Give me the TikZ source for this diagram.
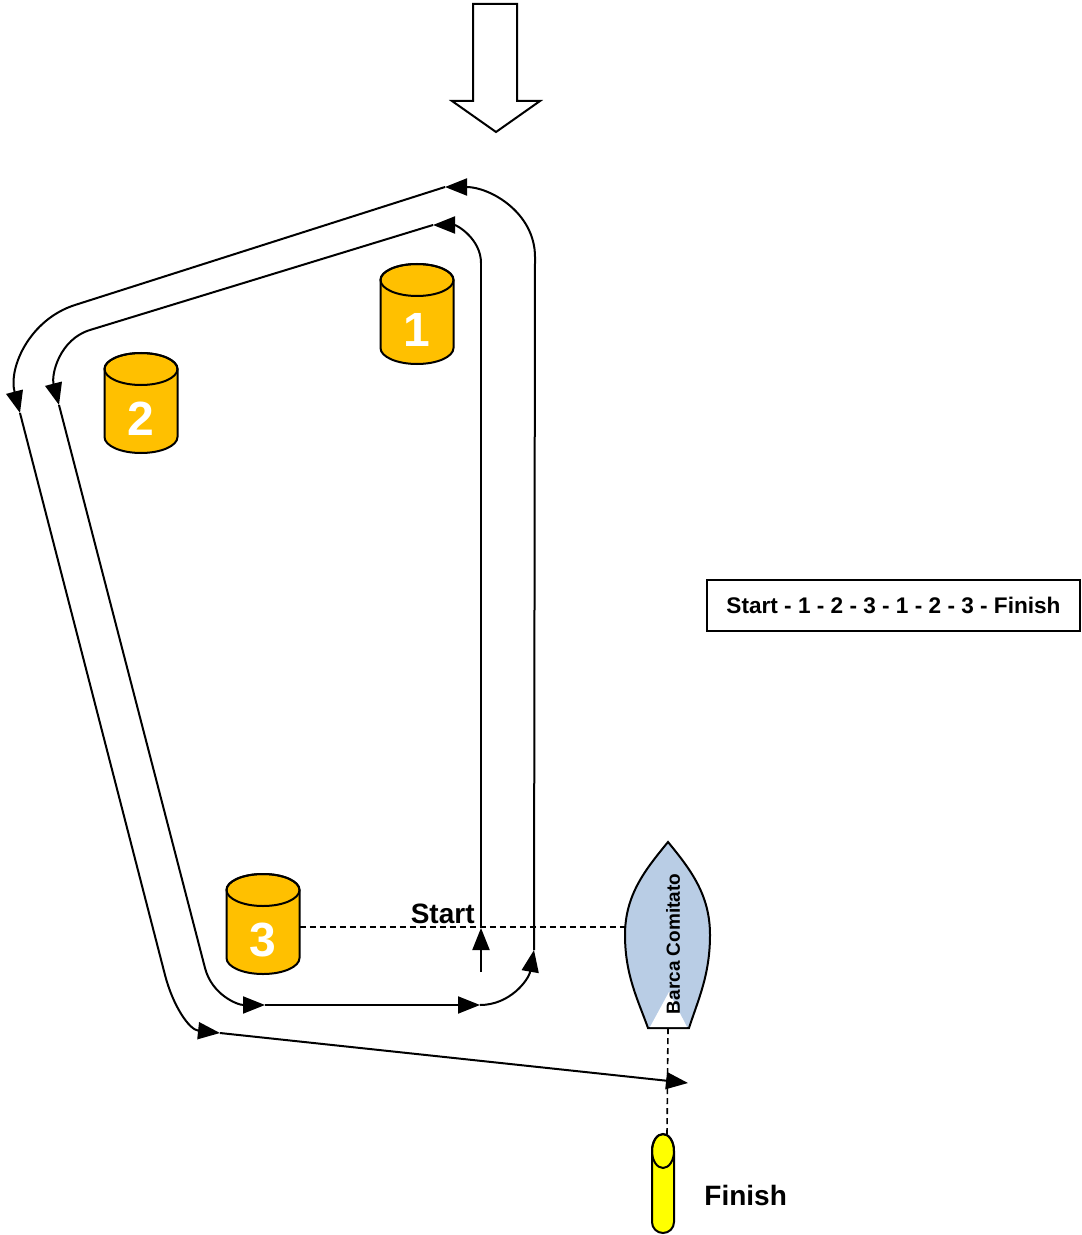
\documentclass[tikz,border=0pt]{standalone}
\usepackage{fontspec}
\setmainfont{Liberation Sans}
\usepackage{tikz}
\usetikzlibrary{arrows.meta,positioning,calc}

\definecolor{buoyorange}{HTML}{FFC000}
\definecolor{hullblue}{HTML}{B9CDE5}
\definecolor{finishyellow}{HTML}{FFFF00}

\begin{document}
\begin{tikzpicture}[x=0.5pt,y=0.5pt,
	leg/.style={line width=1pt},
	legtip/.style={leg,-{Triangle[length=11pt,width=8.5pt]}},
	startline/.style={line width=0.8pt,dash pattern=on 3pt off 2pt},
	barrel/.style={fill=buoyorange,draw=black,line width=1pt},
	buoynum/.style={text=white,font=\bfseries\fontsize{24}{24}\selectfont,inner sep=0pt},
	tag/.style={font=\bfseries\fontsize{14}{16}\selectfont,inner sep=0pt}]
	\useasboundingbox (0,0) rectangle (1081,-1235);

	% wind
	\draw [line width=1pt] (473,-4) -- (517,-4) -- (517,-101) -- (540,-101) -- (496,-132) -- (452,-101) -- (473,-101) -- cycle;

	% buoys 1, 2, 3
	\foreach \n/\x/\y in {1/417/264,2/141/353,3/263/874}
	{
		\filldraw [barrel] ({\x-36.5},{-\y-16}) -- ({\x-36.5},{-\y-84})
			arc [start angle=180, end angle=360, x radius=36.5, y radius=16]
			-- ({\x+36.5},{-\y-16})
			arc [start angle=0, end angle=180, x radius=36.5, y radius=16] -- cycle;
		\draw [line width=1pt] (\x,{-\y-16}) ellipse [x radius=36.5, y radius=16];
		\node [buoynum, minimum width=36.5pt] (buoy\n) at (\x,{-\y-66}) {\n};
	}

	% first lap
	\draw [legtip] (481,-972) -- (481,-928);
	\draw [leg] (481,-928) -- (481,-263);
	\draw [legtip] (481,-263) to[out=90,in=0] (433,-225);
	\draw [leg] (433,-225) -- (90,-330);
	\draw [legtip] (90,-330) to[out=197,in=104.5] (59,-405);
	\draw [leg] (59,-405) -- (205,-968);
	\draw [legtip] (205,-968) to[out=-75.5,in=180] (265,-1005);
	\draw [legtip] (265,-1005) -- (480,-1005);
	\draw [legtip] (480,-1005) to[out=0,in=-100] (534,-950);
	% second lap
	\draw [leg] (534,-950) -- (535,-257);
	\draw [legtip] (535,-257) to[out=90,in=0] (445,-187);
	\draw [leg] (445,-187) -- (75,-305);
	\draw [legtip] (75,-305) to[out=197.7,in=104.5] (20,-413);
	\draw [leg] (20,-413) -- (165,-975);
	\draw [legtip] (165,-975) to[out=-75.5,in=174] (220,-1033);
	\draw [legtip] (220,-1033) -- (688,-1083);

	% committee boat
	\filldraw [fill=hullblue, line width=1pt] (648,-1028)
		.. controls (638,-1000) and (625,-975) .. (625,-935)
		.. controls (625,-895) and (645,-870) .. (668,-842)
		.. controls (691,-870) and (710,-895) .. (710,-935)
		.. controls (710,-975) and (698,-1000) .. (689,-1028) -- cycle;
	\fill [white] (650,-1027) -- (669,-992) -- (687,-1027) -- cycle;
	\node [rotate=90, font=\bfseries\fontsize{9.5}{10}\selectfont, inner sep=0pt] (boat) at (673,-944) {Barca Comitato};
	\coordinate (boatport) at (625,-927);
	\coordinate (boatstern) at (668,-1028);

	% finish buoy
	\filldraw [fill=finishyellow, line width=1pt] (652,-1151) -- (652,-1222)
		arc [start angle=180, end angle=360, x radius=11, y radius=11]
		-- (674,-1151) arc [start angle=0, end angle=180, x radius=11, y radius=17] -- cycle;
	\draw [line width=1pt] (663,-1151) ellipse [x radius=11, y radius=17];
	\coordinate (finishbuoy) at (667,-1134);

	% start and finish lines
	\draw [startline] ([yshift=6.5pt]buoy3.east) -- (boatport);
	\draw [startline] (boatstern) -- (finishbuoy);

	\node [tag, anchor=base east] (startlabel) at (475,-923) {Start};
	\node [tag, anchor=base west] (finishlabel) at (704,-1205) {Finish};

	\node [draw, line width=0.8pt, minimum width=186.5pt, minimum height=25.5pt,
		font=\bfseries\fontsize{11.3}{12}\selectfont] (course) at (893.5,-605.5)
		{Start - 1 - 2 - 3 - 1 - 2 - 3 - Finish};
\end{tikzpicture}
\end{document}
